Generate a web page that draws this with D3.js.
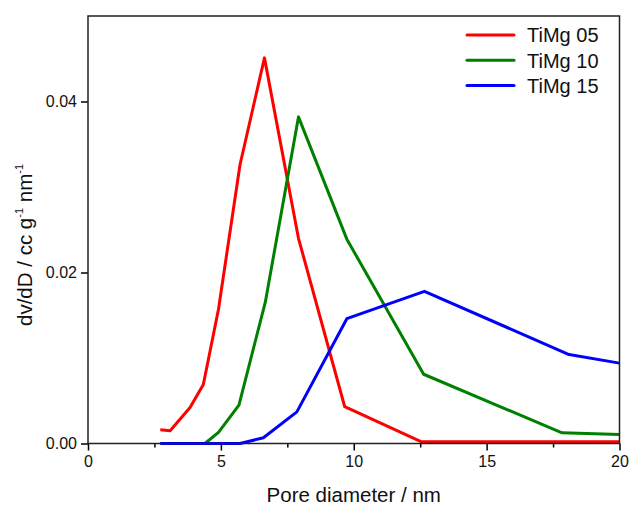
<!DOCTYPE html>
<html><head><meta charset="utf-8">
<script src="https://cdn.jsdelivr.net/npm/d3@7"></script>
<style>body{margin:0;background:#fff;}svg{display:block;font-family:"Liberation Sans",Arial,sans-serif;}</style>
</head><body>
<svg id="c" width="629" height="506"></svg>
<script>
const seriesNames = ["TiMg 05", "TiMg 10", "TiMg 15"];
const seriesColors = ["#ff0000", "#008000", "#0000ff"];
const x05 = [2.72, 3.09, 3.84, 4.34, 4.91, 5.72, 6.64, 7.92, 9.66, 12.55, 18.1, 20];
const y05 = [0.0016, 0.0015, 0.0042, 0.0069, 0.0157, 0.0326, 0.0451, 0.0240, 0.0043, 0.0002, 0.0002, 0.0002];
const x10 = [2.72, 4.4, 4.91, 5.68, 6.67, 7.92, 9.74, 12.63, 17.84, 20];
const y10 = [0.0, 0.0, 0.0013, 0.0045, 0.0165, 0.0382, 0.0239, 0.0081, 0.00125, 0.00105];
const x15 = [2.72, 5.72, 6.6, 7.86, 9.74, 12.66, 18.1, 20];
const y15 = [0.0, 0.0, 0.00067, 0.0037, 0.0146, 0.0178, 0.0104, 0.0094];
const xTicks = [0, 5, 10, 15, 20];
const xMinor = [2.5, 7.5, 12.5, 17.5];
const yTicks = [0, 0.02, 0.04];

const svg = d3.select("#c");
const L = 88, R = 619.5, T = 16, B = 443.5;
const x = d3.scaleLinear().domain([0, 20]).range([L, R]);
const y = d3.scaleLinear().domain([0, 0.05]).range([B, T]);

const data = [[x05, y05], [x10, y10], [x15, y15]].map(([xs, ys]) => xs.map((v, i) => [v, ys[i]]));

// axes
const xAxis = svg.append("g").attr("transform", `translate(0,${B})`)
  .call(d3.axisBottom(x).tickValues(xTicks).tickFormat(d3.format("d")).tickSize(7).tickPadding(5));
const xMin = svg.append("g").attr("transform", `translate(0,${B})`)
  .call(d3.axisBottom(x).tickValues(xMinor).tickFormat("").tickSize(4));
const yAxis = svg.append("g").attr("transform", `translate(${L},0)`)
  .call(d3.axisLeft(y).tickValues(yTicks).tickFormat(d3.format(".2f")).tickSize(7).tickPadding(4));
[xAxis, xMin, yAxis].forEach(g => {
  g.select(".domain").remove();
  g.selectAll("line").attr("stroke", "#000").attr("stroke-width", 1.5);
  g.selectAll("text").attr("font-size", 16).attr("fill", "#111").attr("font-family", "Liberation Sans, Arial, sans-serif");
});

// lines
const line = d3.line().x(d => x(d[0])).y(d => y(d[1]));
data.forEach((d, i) => {
  svg.append("path").datum(d).attr("d", line).attr("fill", "none")
    .attr("stroke", seriesColors[i]).attr("stroke-width", 3).attr("stroke-linejoin", "round");
});

// frame
svg.append("rect").attr("x", L).attr("y", T).attr("width", R - L).attr("height", B - T)
  .attr("fill", "none").attr("stroke", "#222").attr("stroke-width", 1.5);

// legend
const lg = svg.append("g");
seriesNames.forEach((n, i) => {
  const yy = 35 + i * 25.3;
  lg.append("line").attr("x1", 467).attr("x2", 514).attr("y1", yy).attr("y2", yy)
    .attr("stroke", seriesColors[i]).attr("stroke-width", 3).attr("stroke-linecap", "round");
  lg.append("text").attr("x", 527).attr("y", yy + 7.3).attr("font-size", 20).attr("fill", "#111").text(n);
});

// axis titles
svg.append("text").attr("x", (L + R) / 2).attr("y", 502).attr("text-anchor", "middle")
  .attr("font-size", 20.5).attr("fill", "#111").text("Pore diameter / nm");
const yt = svg.append("text").attr("transform", "translate(32,245) rotate(-90)")
  .attr("text-anchor", "middle").attr("font-size", 20.5).attr("fill", "#111");
yt.append("tspan").text("dv/dD / cc g");
yt.append("tspan").attr("font-size", 11).attr("dy", -9).text("-1");
yt.append("tspan").attr("dy", 9).text(" nm");
yt.append("tspan").attr("font-size", 11).attr("dy", -9).text("-1");
</script>
</body></html>
